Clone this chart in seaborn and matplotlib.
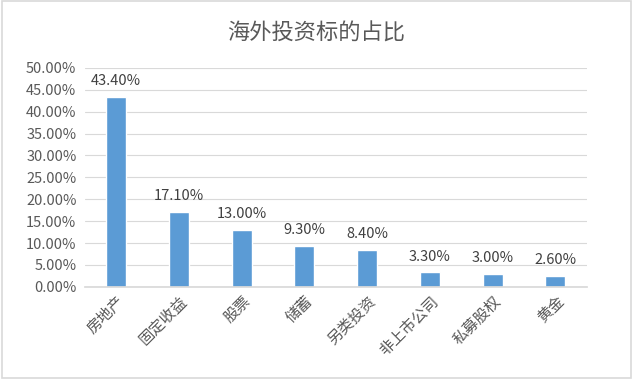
import matplotlib
matplotlib.use("Agg")
import matplotlib.pyplot as plt
import seaborn as sns
import pandas as pd
from matplotlib.ticker import FuncFormatter, MultipleLocator

categories = ["房地产", "固定收益", "股票", "储蓄", "另类投资", "非上市公司", "私募股权", "黄金"]
values = [43.40, 17.10, 13.00, 9.30, 8.40, 3.30, 3.00, 2.60]
title = "海外投资标的占比"

sns.set_theme(style="white")
plt.rcParams['font.family'] = ['Noto Sans CJK SC', 'DejaVu Sans']

df = pd.DataFrame({"cat": categories, "val": values})

fig = plt.figure(figsize=(6.33, 3.79), dpi=100)
ax = fig.add_axes([0.134, 0.243, 0.793, 0.578])
sns.barplot(data=df, x="cat", y="val", color="#5B9BD5", saturation=1, width=0.32, ax=ax)

ax.set_ylim(0, 50)
ax.yaxis.set_major_locator(MultipleLocator(5))
ax.yaxis.set_major_formatter(FuncFormatter(lambda v, p: f"{v:.2f}%"))
ax.grid(axis="y", color="#D9D9D9", linewidth=0.8)
ax.set_axisbelow(True)
for s in ["top", "right", "left"]:
    ax.spines[s].set_visible(False)
ax.spines["bottom"].set_color("#D9D9D9")
ax.set_xlabel("")
ax.set_ylabel("")
ax.tick_params(axis="both", length=0, colors="#595959", labelsize=10.5)
ax.tick_params(axis="y", pad=6)
ax.tick_params(axis="x", pad=4)
for lab in ax.get_xticklabels():
    lab.set_rotation(45)
    lab.set_ha("right")
    lab.set_va("top")
    lab.set_rotation_mode("anchor")
    lab.set_fontsize(11)

for i, v in enumerate(values):
    ax.text(i, v + 2.0, f"{v:.2f}%", ha="center", va="bottom", fontsize=10.5, color="#404040")

fig.text(0.5, 0.912, title, ha="center", va="center", fontsize=16, color="#595959")

border = plt.Rectangle((0.003, 0.003), 0.994, 0.994, transform=fig.transFigure,
                       fill=False, edgecolor="#D9D9D9", linewidth=1.2)
fig.patches.append(border)

fig.savefig("out.png", dpi=100)
